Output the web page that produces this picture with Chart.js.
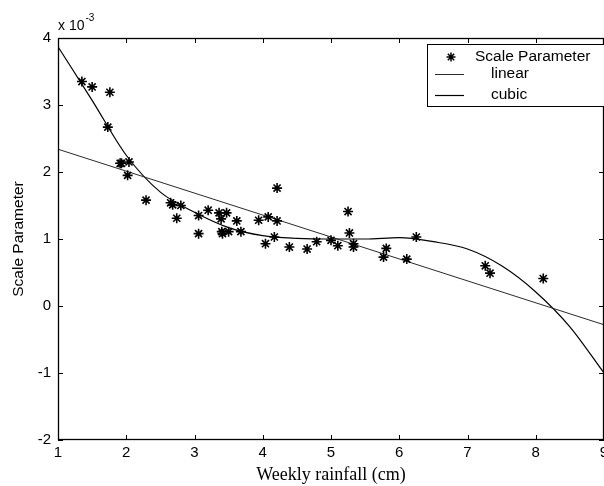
<!DOCTYPE html>
<html>
<head>
<meta charset="utf-8">
<script src="https://cdn.jsdelivr.net/npm/chart.js@4/dist/chart.umd.min.js"></script>
<style>
    html, body { margin: 0; padding: 0; background: #fff; }
    #wrap { width: 604px; height: 486px; }
</style>
</head>
<body>
<div id="wrap"><canvas id="rainChart" width="604" height="486"></canvas></div>
<script>
// observed scale parameter (x 10^-3) against weekly rainfall (cm)
const rainfall = [1.35, 1.50, 1.76, 1.73, 1.91, 1.93, 2.04, 2.02, 2.29, 2.65,
    2.68, 2.80, 2.74, 3.06, 3.06, 3.20, 3.36, 3.47, 3.39, 3.40,
    3.41, 3.50, 3.62, 3.68, 3.94, 4.08, 4.21, 4.21, 4.17, 4.04,
    4.39, 4.65, 4.79, 5.00, 5.10, 5.25, 5.27, 5.33, 5.33, 5.81,
    5.77, 6.11, 6.25, 7.26, 7.33, 8.11];
const scaleParam = [3.35, 3.27, 3.19, 2.67, 2.13, 2.13, 2.15, 1.95, 1.58, 1.54,
    1.51, 1.50, 1.31, 1.35, 1.08, 1.43, 1.39, 1.39, 1.30, 1.11,
    1.08, 1.11, 1.27, 1.11, 1.28, 1.33, 1.76, 1.27, 1.03, 0.93,
    0.88, 0.85, 0.96, 0.98, 0.90, 1.41, 1.09, 0.93, 0.88, 0.86,
    0.73, 0.70, 1.03, 0.60, 0.49, 0.41];

// fitted curves
const linearX = [1, 9];
const linearFit = [2.34, -0.28];
const cubicX = [1, 1.5, 2, 2.5, 3, 3.5, 4, 4.5, 5, 5.5, 6, 6.5, 7, 7.5, 8, 8.5, 9];
const cubicFit = [3.87, 3.07, 2.25, 1.70, 1.40, 1.17, 1.05, 1.01, 1.00, 1.00,
    1.02, 0.96, 0.85, 0.60, 0.21, -0.31, -1.00];

const xTicks = [1, 2, 3, 4, 5, 6, 7, 8, 9];
const yTicks = [-2, -1, 0, 1, 2, 3, 4];

const sansFont = '"Liberation Sans", Arial, sans-serif';

function toPoints(xs, ys) {
    return xs.map((x, i) => ({ x, y: ys[i] }));
}

// box round the plot, ticks pointing inwards, legend and exponent label
const matlabFrame = {
    id: 'matlabFrame',
    afterDatasetsDraw(chart) {
        const { ctx, chartArea: a, scales } = chart;
        const tick = 5;

        ctx.save();
        ctx.strokeStyle = '#000';
        ctx.lineWidth = 1;
        ctx.beginPath();
        xTicks.forEach((v) => {
            const px = Math.round(scales.x.getPixelForValue(v)) + 0.5;
            ctx.moveTo(px, a.bottom);
            ctx.lineTo(px, a.bottom - tick);
            ctx.moveTo(px, a.top);
            ctx.lineTo(px, a.top + tick);
        });
        yTicks.forEach((v) => {
            const py = Math.round(scales.y.getPixelForValue(v)) + 0.5;
            ctx.moveTo(a.left, py);
            ctx.lineTo(a.left + tick, py);
            ctx.moveTo(a.right, py);
            ctx.lineTo(a.right - tick, py);
        });
        ctx.stroke();

        ctx.lineWidth = 1.3;
        ctx.strokeRect(a.left + 0.5, a.top + 0.5, a.right - a.left - 1, a.bottom - a.top - 1);

        // exponent label
        ctx.fillStyle = '#000';
        ctx.textBaseline = 'alphabetic';
        ctx.textAlign = 'left';
        ctx.font = '14px ' + sansFont;
        ctx.fillText('x 10', a.left, a.top - 8);
        const w = ctx.measureText('x 10').width;
        ctx.font = '10px ' + sansFont;
        ctx.fillText('-3', a.left + w + 1, a.top - 17);

        // legend
        const lx = a.right - 177;
        const ly = a.top + 6;
        ctx.fillStyle = '#fff';
        ctx.fillRect(lx, ly, 180, 62);
        ctx.lineWidth = 1;
        ctx.strokeRect(lx + 0.5, ly + 0.5, 180, 62);

        const sets = chart.data.datasets;
        ctx.fillStyle = '#000';
        ctx.font = '15.5px ' + sansFont;
        ctx.textBaseline = 'middle';

        // asterisk marker
        const mx = lx + 24, my = ly + 13, r = 4.5;
        ctx.lineWidth = 1.5;
        ctx.beginPath();
        for (let k = 0; k < 4; k++) {
            const ang = k * Math.PI / 4;
            ctx.moveTo(mx - r * Math.cos(ang), my - r * Math.sin(ang));
            ctx.lineTo(mx + r * Math.cos(ang), my + r * Math.sin(ang));
        }
        ctx.stroke();
        ctx.fillText(sets[0].label, lx + 48, my);

        [[sets[1], ly + 30, 64], [sets[2], ly + 51, 64]].forEach(([ds, y, tx]) => {
            ctx.strokeStyle = ds.borderColor;
            ctx.lineWidth = ds.borderWidth;
            ctx.beginPath();
            ctx.moveTo(lx + 8, Math.round(y) + 0.5);
            ctx.lineTo(lx + 37, Math.round(y) + 0.5);
            ctx.stroke();
            ctx.fillText(ds.label, lx + tx, y);
        });
        ctx.restore();
    },
};

const chart = new Chart(document.getElementById('rainChart'), {
    type: 'scatter',
    data: {
        datasets: [
            {
                label: 'Scale Parameter',
                data: toPoints(rainfall, scaleParam),
                pointStyle: 'star',
                pointRadius: 5,
                borderColor: '#000',
                backgroundColor: '#000',
                borderWidth: 1.6,
                showLine: false,
            },
            {
                label: 'linear',
                type: 'line',
                data: toPoints(linearX, linearFit),
                borderColor: '#2a2a2a',
                borderWidth: 1,
                pointRadius: 0,
                fill: false,
            },
            {
                label: 'cubic',
                type: 'line',
                data: toPoints(cubicX, cubicFit),
                borderColor: '#000',
                borderWidth: 1.2,
                pointRadius: 0,
                fill: false,
                cubicInterpolationMode: 'monotone',
            },
        ],
    },
    options: {
        responsive: false,
        animation: false,
        layout: { autoPadding: false, padding: { top: 38, left: 0, right: 0, bottom: 0 } },
        plugins: {
            legend: { display: false },
            tooltip: { enabled: false },
        },
        scales: {
            x: {
                type: 'linear',
                min: 1,
                max: 9,
                grid: { display: false, drawTicks: false },
                border: { display: false },
                afterBuildTicks: (s) => { s.ticks = xTicks.map((v) => ({ value: v })); },
                afterFit: (s) => { s.height = 46; s.paddingLeft = 0; s.paddingRight = 0; },
                ticks: {
                    color: '#000',
                    padding: 4,
                    maxRotation: 0,
                    font: { family: sansFont, size: 15 },
                },
                title: {
                    display: true,
                    text: 'Weekly rainfall (cm)',
                    color: '#000',
                    padding: { top: 0, bottom: 0 },
                    font: { family: '"Liberation Serif", "Times New Roman", serif', size: 18 },
                },
            },
            y: {
                type: 'linear',
                min: -2,
                max: 4,
                grid: { display: false, drawTicks: false },
                border: { display: false },
                afterBuildTicks: (s) => { s.ticks = yTicks.map((v) => ({ value: v })); },
                afterFit: (s) => { s.width = 58; s.paddingTop = 0; s.paddingBottom = 0; },
                ticks: {
                    color: '#000',
                    padding: 7,
                    font: { family: sansFont, size: 15 },
                },
                title: {
                    display: true,
                    text: 'Scale Parameter',
                    color: '#000',
                    padding: { top: 9, bottom: 0 },
                    font: { family: sansFont, size: 15.5 },
                },
            },
        },
    },
    plugins: [matlabFrame],
});
</script>
</body>
</html>
